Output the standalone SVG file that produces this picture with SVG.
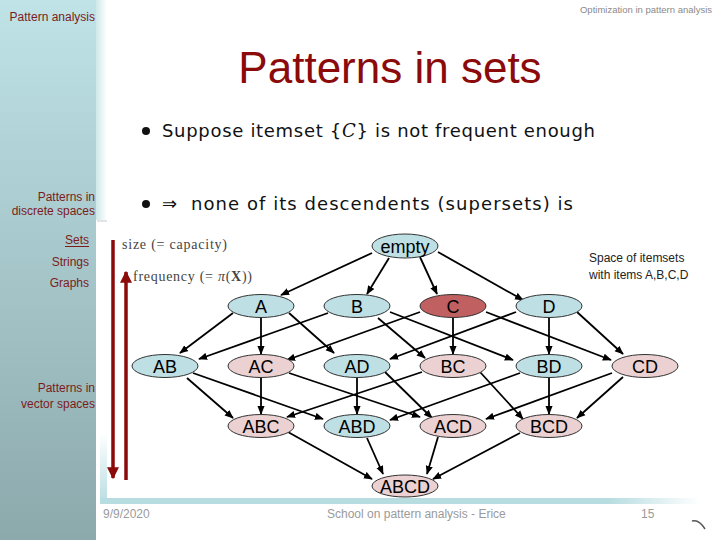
<svg xmlns="http://www.w3.org/2000/svg" width="720" height="540" viewBox="0 0 720 540">
<defs>
<linearGradient id="side" x1="0" y1="0" x2="0" y2="1">
<stop offset="0" stop-color="#bfe3e7"/>
<stop offset="1" stop-color="#8ca9ac"/>
</linearGradient>
<linearGradient id="strip" x1="0" y1="0" x2="1" y2="0">
<stop offset="0" stop-color="#cfe7ea"/>
<stop offset="1" stop-color="#ffffff"/>
</linearGradient>
<linearGradient id="barH" x1="0" y1="0" x2="1" y2="0">
<stop offset="0" stop-color="#b8dde1"/>
<stop offset="0.85" stop-color="#b8dde1"/>
<stop offset="1" stop-color="#ffffff"/>
</linearGradient>
<linearGradient id="barV" x1="0" y1="0" x2="0" y2="1">
<stop offset="0" stop-color="#ffffff"/>
<stop offset="1" stop-color="#b8dde1"/>
</linearGradient>
<marker id="ah" viewBox="0 0 10 8" refX="9" refY="4" markerWidth="9" markerHeight="8" markerUnits="userSpaceOnUse" orient="auto">
<path d="M0,0 L10,4 L0,8 z" fill="#000"/>
</marker>
<marker id="rh" viewBox="0 0 10 10" refX="9" refY="5" markerWidth="12" markerHeight="12" markerUnits="userSpaceOnUse" orient="auto">
<path d="M0,0 L10,5 L0,10 z" fill="#8b0a0a"/>
</marker>
<style>
.side{font-family:"Liberation Sans",Arial,sans-serif;font-size:12px;fill:#7b1c1c;text-anchor:end}
.foot{font-family:"Liberation Sans",Arial,sans-serif;font-size:12px;fill:#9a9a9a}
.lbl{font-family:"Liberation Sans",Arial,sans-serif;font-size:18px;fill:#000;text-anchor:middle}
.teal{fill:#bee0e4;stroke:#333;stroke-width:1}
.pink{fill:#ebd1d1;stroke:#333;stroke-width:1}
.dark{fill:#c06060;stroke:#333;stroke-width:1}
.edge line{stroke:#000;stroke-width:1.8;marker-end:url(#ah)}
.math{font-family:"Liberation Serif","Times New Roman",serif;font-size:14px;fill:#444}
.bul{font-family:"DejaVu Sans",sans-serif;font-size:18px;fill:#111}
</style>
</defs>
<rect x="0" y="0" width="720" height="540" fill="#fff"/>
<rect x="0" y="0" width="96" height="540" fill="url(#side)"/>
<rect x="96" y="0" width="11" height="220" fill="url(#strip)"/>
<line x1="97" y1="221" x2="107" y2="221" stroke="#c8c8c8" stroke-width="1"/>
<rect x="100" y="433" width="7" height="71" fill="url(#barV)"/>
<rect x="100" y="498" width="600" height="6" fill="url(#barH)"/>

<text x="95" y="21" class="side">Pattern analysis</text>
<text x="712" y="13" font-family="Liberation Sans,Arial,sans-serif" font-size="9.5" fill="#8a8a8a" text-anchor="end">Optimization in pattern analysis</text>
<text x="390" y="83" font-family="Liberation Sans,Arial,sans-serif" font-size="44" fill="#8b0a0a" text-anchor="middle">Patterns in sets</text>

<text x="95" y="201" class="side">Patterns in</text>
<text x="95" y="215" class="side">discrete spaces</text>
<text x="89" y="244" class="side">Sets</text>
<line x1="65" y1="246.5" x2="89" y2="246.5" stroke="#7b1c1c" stroke-width="1"/>
<text x="89" y="266" class="side">Strings</text>
<text x="89" y="287" class="side">Graphs</text>
<text x="95" y="392" class="side">Patterns in</text>
<text x="95" y="408" class="side">vector spaces</text>

<circle cx="146" cy="131" r="4" fill="#111"/>
<text x="162" y="137" class="bul" textLength="433">Suppose itemset {<tspan font-family="DejaVu Serif,serif" font-style="italic">C</tspan>} is not frequent enough</text>
<circle cx="146" cy="204" r="4" fill="#111"/>
<text x="162" y="210" class="bul">⇒</text>
<text x="191" y="210" class="bul" textLength="382">none of its descendents (supersets) is</text>

<line x1="113" y1="240" x2="113" y2="478" stroke="#8b0a0a" stroke-width="3.5" marker-end="url(#rh)"/>
<line x1="126" y1="480" x2="126" y2="272" stroke="#8b0a0a" stroke-width="3.5" marker-end="url(#rh)"/>
<text x="122" y="249" class="math" textLength="105">size (= capacity)</text>
<text x="133" y="281" class="math" textLength="119">frequency (= <tspan font-style="italic">π</tspan>(<tspan font-weight="bold">X</tspan>))</text>

<text x="589" y="262" font-family="Liberation Sans,Arial,sans-serif" font-size="12" fill="#222">Space of itemsets</text>
<text x="589" y="279" font-family="Liberation Sans,Arial,sans-serif" font-size="12" fill="#222">with items A,B,C,D</text>

<g id="connectors" class="edge">
<line x1="372" y1="253" x2="281" y2="295"/>
<line x1="389" y1="258" x2="367" y2="294"/>
<line x1="420" y1="257" x2="437" y2="294"/>
<line x1="438" y1="252" x2="523" y2="300"/>
<line x1="233" y1="313" x2="180" y2="353"/>
<line x1="261" y1="317" x2="261" y2="354"/>
<line x1="289" y1="313" x2="334" y2="353"/>
<line x1="328" y1="313" x2="199" y2="359"/>
<line x1="378" y1="318" x2="425" y2="358"/>
<line x1="390" y1="312" x2="513" y2="360"/>
<line x1="420" y1="312" x2="287" y2="360"/>
<line x1="453" y1="317" x2="453" y2="354"/>
<line x1="486" y1="312" x2="611" y2="360"/>
<line x1="516" y1="312" x2="390" y2="359"/>
<line x1="549" y1="317" x2="549" y2="354"/>
<line x1="577" y1="312" x2="623" y2="354"/>
<line x1="187" y1="378" x2="233" y2="418"/>
<line x1="193" y1="373" x2="323" y2="419"/>
<line x1="261" y1="377" x2="261" y2="414"/>
<line x1="289" y1="373" x2="420" y2="417"/>
<line x1="357" y1="377" x2="357" y2="414"/>
<line x1="385" y1="372" x2="432" y2="418"/>
<line x1="422" y1="372" x2="287" y2="417"/>
<line x1="480" y1="372" x2="523" y2="419"/>
<line x1="520" y1="373" x2="390" y2="420"/>
<line x1="549" y1="377" x2="549" y2="414"/>
<line x1="612" y1="373" x2="486" y2="419"/>
<line x1="623" y1="377" x2="577" y2="418"/>
<line x1="288" y1="432" x2="372" y2="479"/>
<line x1="367" y1="438" x2="383" y2="474"/>
<line x1="438" y1="437" x2="427" y2="474"/>
<line x1="520" y1="433" x2="433" y2="479"/>
</g>

<g id="n-empty"><ellipse cx="405" cy="246" rx="33" ry="12" class="teal"/><text x="405" y="252.5" class="lbl">empty</text></g>
<g id="n-A"><ellipse cx="261" cy="306" rx="33" ry="11.5" class="teal"/><text x="261" y="312.5" class="lbl">A</text></g>
<g id="n-B"><ellipse cx="357" cy="306" rx="33" ry="11.5" class="teal"/><text x="357" y="312.5" class="lbl">B</text></g>
<g id="n-C"><ellipse cx="453" cy="306" rx="33" ry="11.5" class="dark"/><text x="453" y="312.5" class="lbl">C</text></g>
<g id="n-D"><ellipse cx="549" cy="306" rx="33" ry="11.5" class="teal"/><text x="549" y="312.5" class="lbl">D</text></g>
<g id="n-AB"><ellipse cx="165" cy="366" rx="33" ry="11.5" class="teal"/><text x="165" y="372.5" class="lbl">AB</text></g>
<g id="n-AC"><ellipse cx="261" cy="366" rx="33" ry="11.5" class="pink"/><text x="261" y="372.5" class="lbl">AC</text></g>
<g id="n-AD"><ellipse cx="357" cy="366" rx="33" ry="11.5" class="teal"/><text x="357" y="372.5" class="lbl">AD</text></g>
<g id="n-BC"><ellipse cx="453" cy="366" rx="33" ry="11.5" class="pink"/><text x="453" y="372.5" class="lbl">BC</text></g>
<g id="n-BD"><ellipse cx="549" cy="366" rx="33" ry="11.5" class="teal"/><text x="549" y="372.5" class="lbl">BD</text></g>
<g id="n-CD"><ellipse cx="645" cy="366" rx="33" ry="11.5" class="pink"/><text x="645" y="372.5" class="lbl">CD</text></g>
<g id="n-ABC"><ellipse cx="261" cy="426" rx="33" ry="11.5" class="pink"/><text x="261" y="432.5" class="lbl">ABC</text></g>
<g id="n-ABD"><ellipse cx="357" cy="426" rx="33" ry="11.5" class="teal"/><text x="357" y="432.5" class="lbl">ABD</text></g>
<g id="n-ACD"><ellipse cx="453" cy="426" rx="33" ry="11.5" class="pink"/><text x="453" y="432.5" class="lbl">ACD</text></g>
<g id="n-BCD"><ellipse cx="549" cy="426" rx="33" ry="11.5" class="pink"/><text x="549" y="432.5" class="lbl">BCD</text></g>
<g id="n-ABCD"><ellipse cx="405" cy="486" rx="33" ry="11" class="pink"/><text x="405" y="492.5" class="lbl">ABCD</text></g>

<text x="103" y="518" class="foot">9/9/2020</text>
<text x="327" y="518" class="foot">School on pattern analysis - Erice</text>
<text x="641" y="518" class="foot">15</text>
<path d="M692,521 Q699,519 705,529" fill="none" stroke="#555" stroke-width="1.5"/>
</svg>
